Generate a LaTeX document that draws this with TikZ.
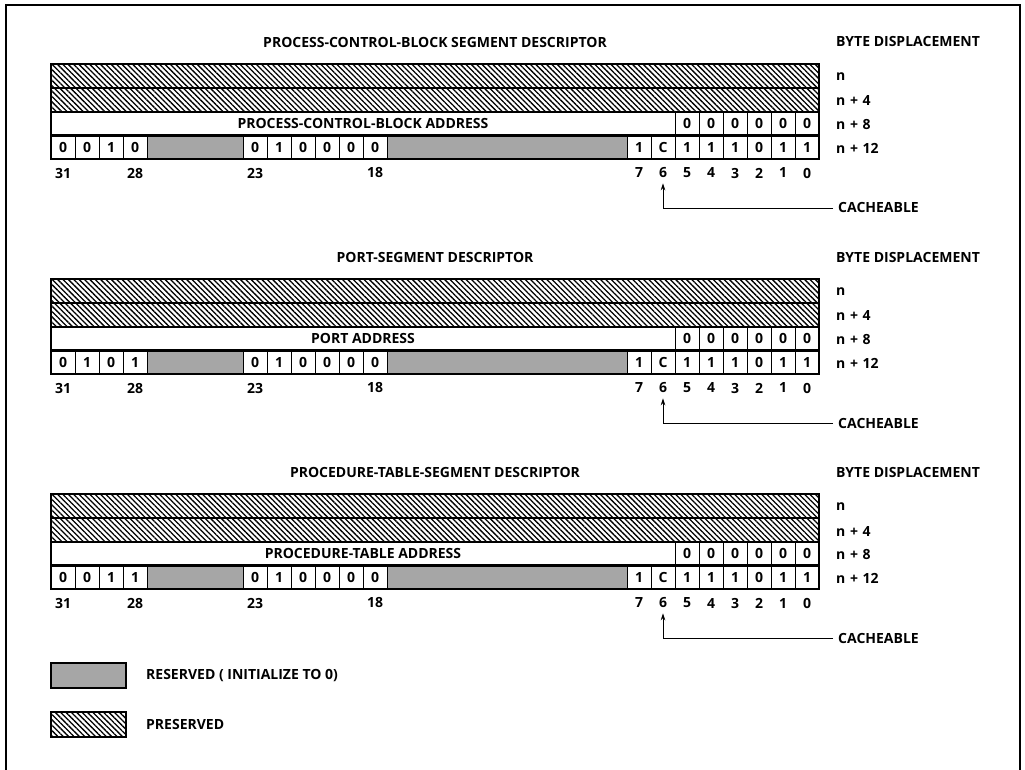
\documentclass[tikz,border=0pt]{standalone}
\usepackage{fontspec}
\setmainfont{Open Sans}
\usetikzlibrary{patterns.meta,arrows.meta,calc}
\tikzset{
  x=1pt, y=-1pt,
  lbl/.style={font=\fontsize{14}{14}\selectfont\bfseries, inner sep=0pt},
  preserved/.style={pattern={Lines[angle=-45,distance=3.8pt,line width=1.3pt]}},
  reserved/.style={fill=black!35},
  thinln/.style={line width=0.9pt},
  thickln/.style={line width=2.4pt},
  frameln/.style={line width=2pt},
  arrowln/.style={line width=0.9pt,-{Stealth[length=7pt,width=4.5pt]}},
}
\begin{document}
\begin{tikzpicture}
\fill[white] (0,0) rectangle (1025,770);
\useasboundingbox (0,0) rectangle (1025,770);
\draw[frameln] (6,770) -- (6,5) -- (1020,5) -- (1020,770);

\foreach \k/\title/\addr/\ba/\bb/\bc/\bd in {
  0/{PROCESS-CONTROL-BLOCK SEGMENT DESCRIPTOR}/{PROCESS-CONTROL-BLOCK ADDRESS}/0/0/1/0,
  1/{PORT-SEGMENT DESCRIPTOR}/{PORT ADDRESS}/0/1/0/1,
  2/{PROCEDURE-TABLE-SEGMENT DESCRIPTOR}/{PROCEDURE-TABLE ADDRESS}/0/0/1/1}{
  \pgfmathsetmacro\dy{215*\k}
  \begin{scope}[shift={(0,\dy)}]
    \node[lbl] (t\k) at (435,42) {\title};
    \node[lbl,anchor=west] (bd\k) at (836,42) {BYTE DISPLACEMENT};
    % preserved rows
    \fill[preserved] (51,64) rectangle (819,112);
    % reserved fields
    \fill[reserved] (147,135.5) rectangle (243,159);
    \fill[reserved] (387,135.5) rectangle (627,159);
    % thin dividers
    \foreach \xx in {675,699,723,747,771,795}
      \draw[thinln] (\xx,112) -- (\xx,135.5);
    \foreach \xx in {75,99,123,147,243,267,291,315,339,363,387,627,651,675,699,723,747,771,795}
      \draw[thinln] (\xx,135.5) -- (\xx,159);
    % row separators and outline
    \draw[thickln] (51,88) -- (819,88);
    \draw[thickln] (51,112) -- (819,112);
    \draw[thickln] (51,135.5) -- (819,135.5);
    \draw[thickln] (51,64) rectangle (819,159);
    % address row
    \node[lbl] (a\k) at (363,123.75) {\addr};
    \foreach \b in {0,...,5}
      \node[lbl] (z\k-\b) at ({51+(31-\b)*24+12},123.75) {0};
    % bit row
    \foreach \b/\v in {31/\ba,30/\bb,29/\bc,28/\bd,23/0,22/1,21/0,20/0,19/0,18/0,7/1,6/C,5/1,4/1,3/1,2/0,1/1,0/1}
      \node[lbl] (v\k-\b) at ({51+(31-\b)*24+12},147.25) {\v};
    % bit numbers
    \foreach \b in {31,28,23,18,7,6,5,4,3,2,1,0}
      \node[lbl] (n\k-\b) at ({51+(31-\b)*24+12},173) {\b};
    % byte displacement labels
    \node[lbl,anchor=west] (r\k-0) at (836,77) {n};
    \node[lbl,anchor=west] (r\k-4) at (836,101) {n\,\,+\,\,4};
    \node[lbl,anchor=west] (r\k-8) at (836,124.5) {n\,\,+\,\,8};
    \node[lbl,anchor=west] (r\k-12) at (836,148) {n\,\,+\,\,12};
    % cacheable
    \node[lbl,anchor=west] (c\k) at (838,208) {CACHEABLE};
    \draw[arrowln,shorten >=5pt] ([xshift=-5pt]c\k.west) -| (n\k-6.south);
  \end{scope}
}

% legend
\draw[thickln,reserved] (51,663) rectangle (126,688);
\node[lbl,anchor=west] (lr) at (146,675.5) {RESERVED ( INITIALIZE TO 0)};
\draw[thickln,preserved] (51,712) rectangle (126,737);
\node[lbl,anchor=west] (lp) at (146,724.5) {PRESERVED};
\end{tikzpicture}
\end{document}
